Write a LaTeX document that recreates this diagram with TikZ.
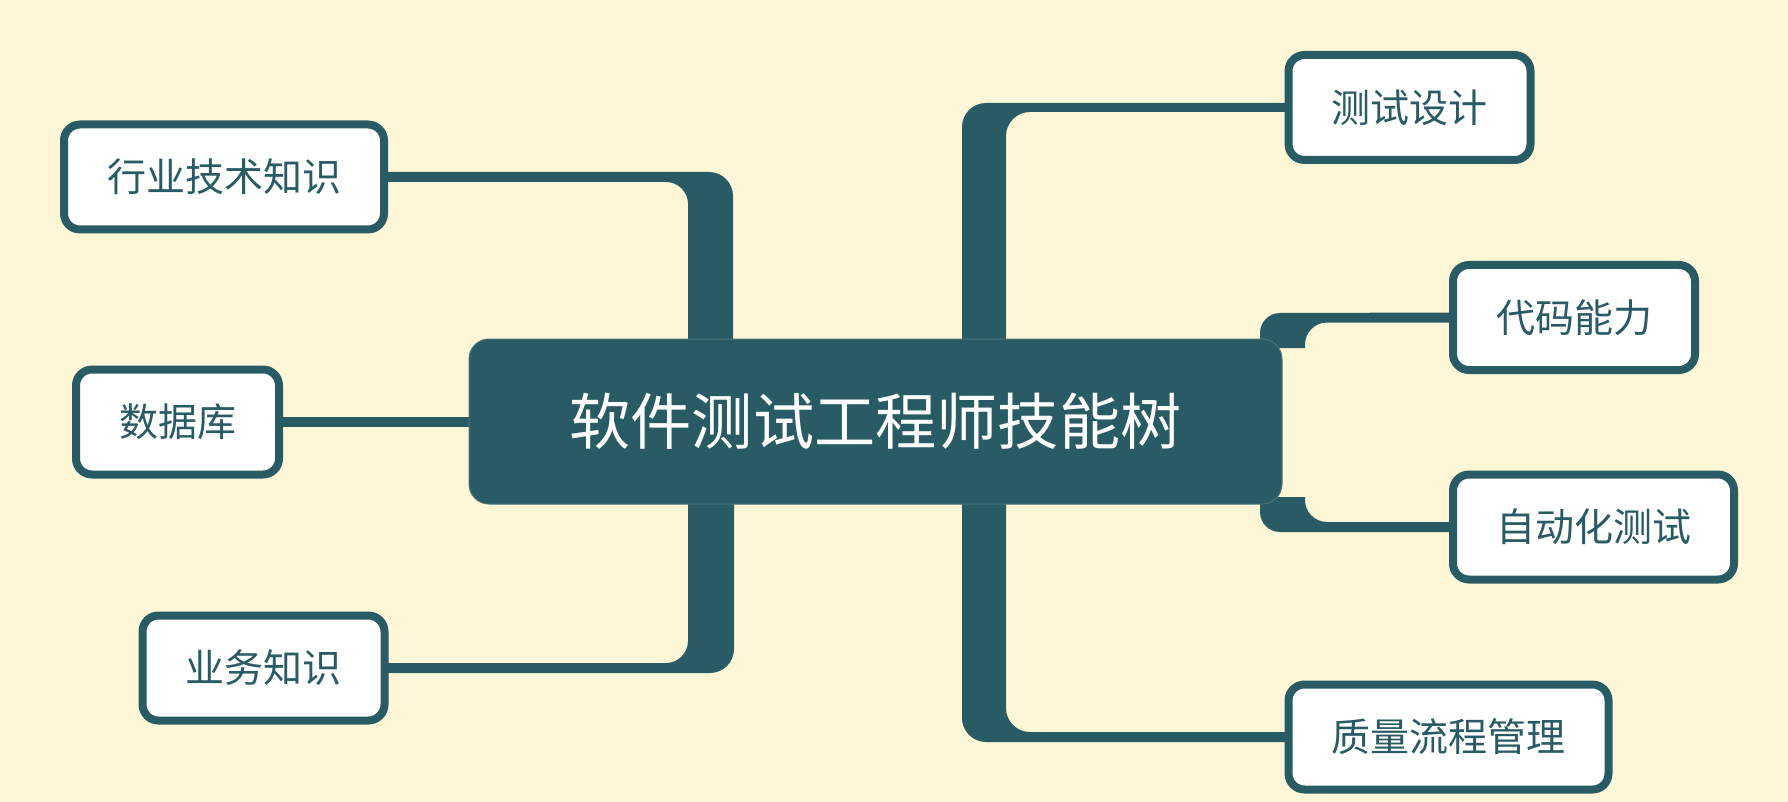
\documentclass[tikz,border=0pt]{standalone}
\usepackage{fontspec}
\setmainfont{Noto Sans CJK SC}
\usepackage{xcolor}
\usetikzlibrary{positioning}
\usetikzlibrary{calc}
\usetikzlibrary{backgrounds}
\definecolor{treeteal}{RGB}{40,91,99}
\definecolor{paper}{RGB}{254,247,215}
\tikzset{
  root/.style={
    fill=treeteal, draw=treeteal!85!white, line width=0.5pt,
    rounded corners=10pt, minimum width=406.5pt, minimum height=82.5pt,
    text=white, font=\fontsize{30.6pt}{36pt}\selectfont,
  },
  skill/.style={
    fill=white, draw=treeteal, line width=4pt, rounded corners=8pt,
    inner xsep=21.5pt, inner ysep=0pt, minimum height=52.5pt,
    text=treeteal, font=\fontsize{19.5pt}{24pt}\selectfont,
  },
  branch/.style={fill=treeteal},
  link/.style={draw=treeteal, line width=5pt},
}

\begin{document}
\begin{tikzpicture}[x=0.5pt, y=-0.5pt]
  \useasboundingbox (0,0) rectangle (1788,802);

  % Define nodes
  \node[root] (root) at (875.5,421.5) {软件测试工程师技能树};

  \node[skill] (industry) at (224,177) {行业技术知识};
  \node[skill] (database) at (177.5,422) {数据库};
  \node[skill] (business) at (263.5,668) {业务知识};

  \node[skill] (design) at (1409.5,107.5) {测试设计};
  \node[skill] (coding) at (1574,317.5) {代码能力};
  \node[skill] (autotest) at (1593.5,527) {自动化测试};
  \node[skill] (quality) at (1448.5,737) {质量流程管理};

  % Connect nodes
  \begin{pgfonlayer}{background}
    \fill[paper] (0,0) rectangle (1788,802);

    \draw[link] (database.east) -- (database.east -| root.west);

    \fill[branch] ($(industry.east)+(-10,-5)$) -- (709,172)
      arc[start angle=90, end angle=0, radius=12pt] -- (733,350) -- (688,350) -- (688,204)
      arc[start angle=0, end angle=90, radius=11pt] -- ($(industry.east)+(-10,5)$) -- cycle;
    \fill[branch] (688,498) -- (734,498) -- (734,649)
      arc[start angle=0, end angle=-90, radius=12pt] -- ($(business.east)+(-10,5)$)
      -- ($(business.east)+(-10,-5)$) -- (666,663)
      arc[start angle=-90, end angle=0, radius=11pt] -- cycle;

    \fill[branch] ($(design.west)+(10,-4.5)$) -- (986,103)
      arc[start angle=90, end angle=180, radius=12pt] -- (962,350) -- (1006,350) -- (1006,136)
      arc[start angle=180, end angle=90, radius=12pt] -- ($(design.west)+(10,4.5)$) -- cycle;
    \fill[branch] (1006,498) -- (962,498) -- (962,718)
      arc[start angle=180, end angle=270, radius=12pt] -- ($(quality.west)+(10,5)$)
      -- ($(quality.west)+(10,-5)$) -- (1030,732)
      arc[start angle=270, end angle=180, radius=12pt] -- cycle;

    \fill[branch] (1260,348) -- (1260,333)
      arc[start angle=180, end angle=90, radius=10pt] -- ($(coding.west)+(10,-5)$)
      -- ($(coding.west)+(10,5)$) -- (1327,322.5)
      arc[start angle=90, end angle=180, radius=11pt] -- (1305,348) -- cycle;
    \fill[branch] (1260,497) -- (1260,512)
      arc[start angle=180, end angle=270, radius=10pt] -- ($(autotest.west)+(10,5)$)
      -- ($(autotest.west)+(10,-5)$) -- (1327,522)
      arc[start angle=270, end angle=180, radius=11pt] -- (1305,497) -- cycle;
  \end{pgfonlayer}

\end{tikzpicture}
\end{document}
